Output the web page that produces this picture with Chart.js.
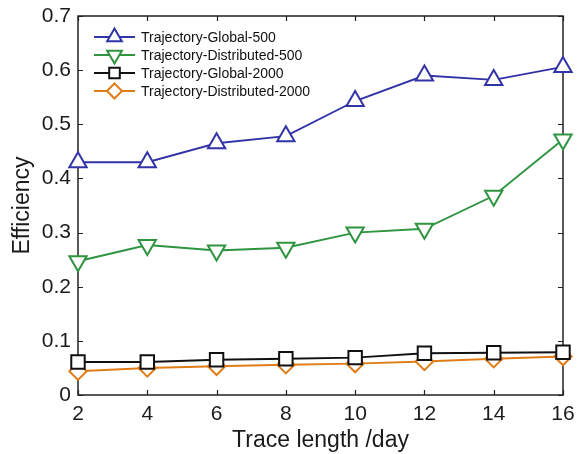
<!DOCTYPE html>
<html>
<head>
<meta charset="utf-8">
<script src="https://cdn.jsdelivr.net/npm/chart.js@4/dist/chart.umd.min.js"></script>
<style>
  html, body { margin: 0; padding: 0; background: #fff; }
  #wrap { width: 580px; height: 454px; }
</style>
</head>
<body>
<div id="wrap"><canvas id="chart" width="580" height="454"></canvas></div>
<script>
// trace length (days)
const traceDays = [2, 4, 6, 8, 10, 12, 14, 16];
const yTicks = [0, 0.1, 0.2, 0.3, 0.4, 0.5, 0.6, 0.7];

const globalEff500 = [0.430, 0.430, 0.465, 0.478, 0.543, 0.590, 0.582, 0.606];
const distEff500 = [0.247, 0.277, 0.267, 0.272, 0.300, 0.307, 0.368, 0.472];
const globalEff2000 = [0.061, 0.061, 0.065, 0.067, 0.069, 0.077, 0.078, 0.079];
const distEff2000 = [0.044, 0.050, 0.053, 0.056, 0.058, 0.062, 0.067, 0.071];

const seriesNames = [
    'Trajectory-Global-500',
    'Trajectory-Distributed-500',
    'Trajectory-Global-2000',
    'Trajectory-Distributed-2000'
];

const FONT = 'Liberation Sans, Arial, Helvetica, sans-serif';

function toPoints(values) {
    return traceDays.map((d, i) => ({ x: d, y: values[i] }));
}

function makeSet(label, values, color, style, rot, radius, legendRadius) {
    return {
        label: label,
        data: toPoints(values),
        borderColor: color,
        backgroundColor: '#ffffff',
        borderWidth: 1.9,
        pointStyle: style,
        rotation: rot,
        pointRadius: radius,
        pointBorderWidth: 2,
        pointBackgroundColor: '#ffffff',
        pointBorderColor: color,
        legendRadius: legendRadius,
        tension: 0,
        fill: false,
        clip: false
    };
}

const datasets = [
    makeSet(seriesNames[0], globalEff500, '#3333a8', 'triangle', 0, 10, 8.5),
    makeSet(seriesNames[1], distEff500, '#2e9440', 'triangle', 180, 10, 8.5),
    makeSet(seriesNames[2], globalEff2000, '#111111', 'rect', 0, 9.5, 7.5),
    makeSet(seriesNames[3], distEff2000, '#e07c16', 'rectRot', 0, 8.7, 7.5)
];

// box with inward ticks on all four sides, MATLAB style
const boxPlugin = {
    id: 'boxTicks',
    beforeDatasetsDraw(chart) {
        const ctx = chart.ctx;
        const a = chart.chartArea;
        const xs = chart.scales.x;
        const ys = chart.scales.y;
        ctx.save();
        ctx.strokeStyle = '#222';
        ctx.lineWidth = 1.2;
        const tl = 5;
        traceDays.forEach(d => {
            const px = Math.round(xs.getPixelForValue(d)) + 0.5;
            ctx.beginPath();
            ctx.moveTo(px, a.bottom); ctx.lineTo(px, a.bottom - tl);
            ctx.moveTo(px, a.top); ctx.lineTo(px, a.top + tl);
            ctx.stroke();
        });
        yTicks.forEach(v => {
            const py = Math.round(ys.getPixelForValue(v)) + 0.5;
            ctx.beginPath();
            ctx.moveTo(a.left, py); ctx.lineTo(a.left + tl, py);
            ctx.moveTo(a.right, py); ctx.lineTo(a.right - tl, py);
            ctx.stroke();
        });
        ctx.lineWidth = 1.5;
        ctx.strokeRect(a.left, a.top, a.right - a.left, a.bottom - a.top);
        ctx.restore();
    }
};

// legend entries drawn as line + marker like the original figure
const legendPlugin = {
    id: 'lineLegend',
    afterDraw(chart) {
        const ctx = chart.ctx;
        const x0 = 94, x1 = 135, tx = 141;
        const rows = [37, 55, 73, 91];
        ctx.save();
        ctx.font = '14px ' + FONT;
        ctx.textBaseline = 'middle';
        ctx.textAlign = 'left';
        chart.data.datasets.forEach((ds, i) => {
            const y = rows[i];
            ctx.strokeStyle = ds.borderColor;
            ctx.lineWidth = ds.borderWidth;
            ctx.beginPath();
            ctx.moveTo(x0, y); ctx.lineTo(x1, y);
            ctx.stroke();
            ctx.fillStyle = '#fff';
            ctx.lineWidth = ds.pointBorderWidth;
            Chart.helpers.drawPoint(ctx, {
                pointStyle: ds.pointStyle,
                rotation: ds.rotation,
                radius: ds.legendRadius,
                borderWidth: ds.pointBorderWidth
            }, (x0 + x1) / 2, y);
            ctx.fillStyle = '#111';
            ctx.fillText(ds.label, tx, y + 1);
        });
        ctx.restore();
    }
};

new Chart(document.getElementById('chart'), {
    type: 'line',
    data: { datasets: datasets },
    options: {
        responsive: false,
        animation: false,
        layout: { padding: { top: 16, right: 17, left: 0, bottom: 0 } },
        plugins: {
            legend: { display: false },
            tooltip: { enabled: false }
        },
        scales: {
            x: {
                type: 'linear',
                min: 2,
                max: 16,
                grid: { display: false, drawTicks: false },
                border: { display: false },
                ticks: {
                    stepSize: 2,
                    padding: 7,
                    color: '#1a1a1a',
                    font: { family: FONT, size: 21 }
                },
                title: {
                    display: true,
                    text: 'Trace length /day',
                    color: '#1a1a1a',
                    font: { family: FONT, size: 23 },
                    padding: { top: 0, bottom: 0 }
                },
                afterFit(scale) {
                    scale.height = 59;
                    scale.paddingLeft = 0;
                    scale.paddingRight = 0;
                }
            },
            y: {
                min: 0,
                max: 0.7,
                grid: { display: false, drawTicks: false },
                border: { display: false },
                ticks: {
                    stepSize: 0.1,
                    padding: 7,
                    color: '#1a1a1a',
                    font: { family: FONT, size: 21 },
                    callback: v => (Math.round(v * 10) / 10).toString()
                },
                title: {
                    display: true,
                    text: 'Efficiency',
                    color: '#1a1a1a',
                    font: { family: FONT, size: 23 },
                    padding: { top: 9, bottom: 0 }
                },
                afterFit(scale) {
                    scale.width = 78;
                    scale.paddingTop = 0;
                    scale.paddingBottom = 0;
                }
            }
        }
    },
    plugins: [boxPlugin, legendPlugin]
});
</script>
</body>
</html>
